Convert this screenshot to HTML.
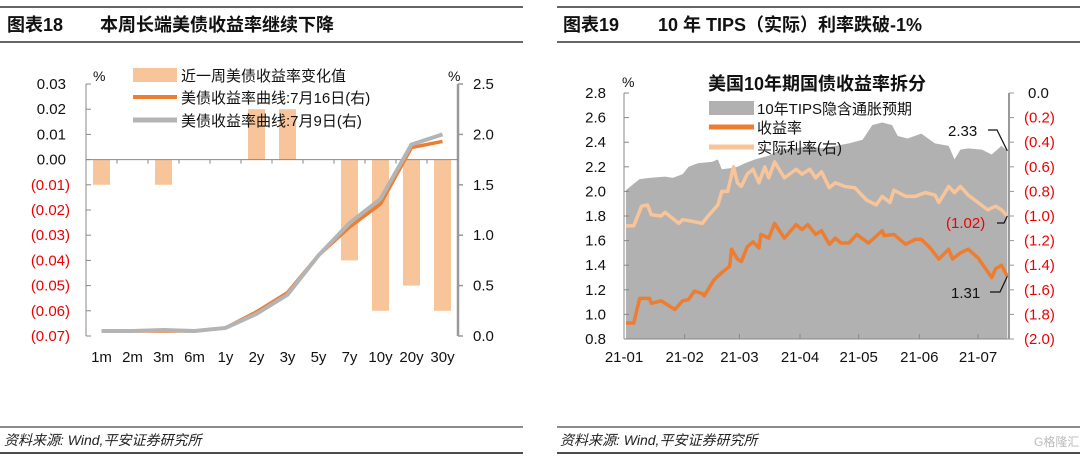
<!DOCTYPE html>
<html><head><meta charset="utf-8">
<style>
html,body{margin:0;padding:0;background:#fff;}
svg{display:block;font-family:"Liberation Sans","Noto Sans CJK SC",sans-serif;}
</style></head>
<body>
<svg id="c" width="1080" height="459" viewBox="0 0 1080 459">
<g>
<line x1="0" y1="7" x2="523" y2="7" stroke="#333" stroke-width="1.5"/>
<line x1="0" y1="42" x2="523" y2="42" stroke="#333" stroke-width="1.5"/>
<text x="7" y="31" font-size="18" font-weight="bold" fill="#111">图表18</text>
<text x="100" y="31" font-size="18" font-weight="bold" fill="#111">本周长端美债收益率继续下降</text>
</g>
<g>
<line x1="557" y1="7" x2="1080" y2="7" stroke="#333" stroke-width="1.5"/>
<line x1="557" y1="42" x2="1080" y2="42" stroke="#333" stroke-width="1.5"/>
<text x="563" y="31" font-size="18" font-weight="bold" fill="#111">图表19</text>
<text x="658" y="31" font-size="18" font-weight="bold" fill="#111">10 年 TIPS（实际）利率跌破-1%</text>
</g>
<g>
<line x1="0" y1="427" x2="523" y2="427" stroke="#666" stroke-width="1.5"/>
<line x1="0" y1="453" x2="523" y2="453" stroke="#111" stroke-width="1.5"/>
<text x="4" y="445" font-size="14" font-style="italic" fill="#222">资料来源: Wind,平安证券研究所</text>
<line x1="557" y1="427" x2="1080" y2="427" stroke="#666" stroke-width="1.5"/>
<line x1="557" y1="453" x2="1080" y2="453" stroke="#111" stroke-width="1.5"/>
<text x="560" y="445" font-size="14" font-style="italic" fill="#222">资料来源: Wind,平安证券研究所</text>
<text x="1034" y="446" font-size="12" fill="#bbb">G格隆汇</text>
</g>
<g id="left"></g>
<g id="right"></g>
</svg>
<script>
// ---------- Left chart data ----------
const tenors = ["1m","2m","3m","6m","1y","2y","3y","5y","7y","10y","20y","30y"];
const weeklyChange = [-0.01,0,-0.01,0,0,0.02,0.02,0,-0.04,-0.06,-0.05,-0.06];
const curveJul16 = [0.05,0.05,0.05,0.05,0.08,0.24,0.43,0.80,1.08,1.31,1.87,1.93];
const curveJul9 = [0.05,0.05,0.06,0.05,0.08,0.22,0.41,0.80,1.12,1.36,1.90,2.00];
const leftTicks = [0.03,0.02,0.01,0,-0.01,-0.02,-0.03,-0.04,-0.05,-0.06,-0.07];
const rightTicksL = [2.5,2.0,1.5,1.0,0.5,0.0];

// ---------- Right chart data (day of year 2021) ----------
const bkDays = [1,8,13,21,25,30,33,38,45,48,50,55,58,62,67,74,80,88,94,101,108,115,122,127,132,137,140,145,152,159,166,169,172,176,183,188,193,196];
const bkVals = [2.01,2.10,2.11,2.12,2.11,2.14,2.20,2.23,2.24,2.26,2.18,2.19,2.20,2.23,2.26,2.29,2.34,2.35,2.37,2.35,2.37,2.39,2.42,2.54,2.56,2.54,2.45,2.43,2.47,2.39,2.37,2.26,2.34,2.35,2.34,2.30,2.37,2.33];
const nomDays = [1,5,8,13,14,19,26,30,33,36,40,41,46,50,54,55,58,60,63,66,69,70,74,77,82,88,91,94,98,101,105,108,111,115,119,125,132,133,138,144,149,152,156,161,166,168,172,176,181,188,190,193,196];
const nomVals = [0.93,0.93,1.13,1.13,1.09,1.11,1.04,1.11,1.12,1.19,1.17,1.15,1.28,1.34,1.39,1.53,1.45,1.43,1.55,1.59,1.54,1.65,1.62,1.74,1.62,1.73,1.69,1.73,1.65,1.68,1.57,1.62,1.58,1.58,1.65,1.58,1.68,1.64,1.65,1.57,1.61,1.61,1.55,1.45,1.53,1.45,1.50,1.53,1.46,1.30,1.37,1.40,1.31];
const realDays = [1,5,9,12,14,19,21,28,30,34,40,43,48,50,53,56,58,60,63,66,69,72,74,77,82,88,91,95,98,101,105,108,113,118,124,129,132,136,138,144,149,154,159,161,166,169,172,176,181,186,190,193,196];
const realVals = [-1.08,-1.08,-0.92,-0.91,-0.99,-1.00,-0.97,-1.06,-1.03,-1.04,-1.06,-1.00,-0.91,-0.80,-0.80,-0.60,-0.73,-0.76,-0.66,-0.62,-0.73,-0.60,-0.69,-0.56,-0.69,-0.62,-0.66,-0.62,-0.69,-0.64,-0.77,-0.73,-0.76,-0.77,-0.87,-0.91,-0.84,-0.89,-0.79,-0.84,-0.84,-0.81,-0.83,-0.89,-0.76,-0.81,-0.76,-0.83,-0.89,-0.95,-0.92,-0.95,-1.00];
const monthLabels = ["21-01","21-02","21-03","21-04","21-05","21-06","21-07"];
const monthDays = [0,31,59,90,120,151,181];
const rLeftTicks = [2.8,2.6,2.4,2.2,2.0,1.8,1.6,1.4,1.2,1.0,0.8];
const rRightTicks = [0,-0.2,-0.4,-0.6,-0.8,-1.0,-1.2,-1.4,-1.6,-1.8,-2.0];

const NS="http://www.w3.org/2000/svg";
function mk(parent,tag,attrs,name,text){
  const e=document.createElementNS(NS,tag);
  for(const k in attrs) e.setAttribute(k,attrs[k]);
  
  
  if(text!==undefined) e.textContent=text;
  parent.appendChild(e);return e;
}
function fmt(v,d){ if(v<0) return "("+Math.abs(v).toFixed(d)+")"; return v.toFixed(d);}

// ---------- Left chart ----------
(function(){
  const g=document.getElementById('left');
  const X0=86,X1=458,Ytop=84,Ybot=336;
  const yL=v=>Ytop+(0.03-v)/0.10*(Ybot-Ytop);
  const yR=v=>Ybot-v/2.5*(Ybot-Ytop);
  const bw=(X1-X0)/tenors.length;
  const xc=i=>X0+bw*(i+0.5);
  weeklyChange.forEach((v,i)=>{
    const y0=yL(0), y1=yL(v);
    const top=Math.min(y0,y1), h=Math.max(Math.abs(y1-y0),0);
    if(h>0) mk(g,'rect',{x:xc(i)-8.5,y:top,width:17,height:h,fill:'#f8c49a'},'bar-'+tenors[i]);
  });
  mk(g,'line',{x1:X0,y1:Ytop,x2:X0,y2:Ybot,stroke:'#888','stroke-width':1},'left-y-axis');
  mk(g,'line',{x1:X1,y1:Ytop,x2:X1,y2:Ybot,stroke:'#999','stroke-width':2.5},'right-y-axis');
  mk(g,'line',{x1:X0,y1:yL(0),x2:X1,y2:yL(0),stroke:'#888','stroke-width':1},'zero-axis');
  for(let i=1;i<tenors.length;i++) mk(g,'line',{x1:X0+bw*i,y1:yL(0),x2:X0+bw*i,y2:yL(0)+4,stroke:'#888'},'x-tick');
  leftTicks.forEach(v=>{
    mk(g,'line',{x1:X0,y1:yL(v),x2:X0+5,y2:yL(v),stroke:'#888'},'left-tick');
    mk(g,'text',{x:v<0?70:66,y:yL(v)+5,'font-size':15,'text-anchor':'end',fill:v<0?'#e00':'#111'},'left-tick-label',fmt(v,2));
  });
  rightTicksL.forEach(v=>{
    mk(g,'line',{x1:X1,y1:yR(v),x2:X1+5,y2:yR(v),stroke:'#999','stroke-width':1.5},'right-tick');
    mk(g,'text',{x:473,y:yR(v)+5,'font-size':15,fill:'#111'},'right-tick-label',v.toFixed(1));
  });
  mk(g,'text',{x:93,y:81,'font-size':14,fill:'#111'},'left-unit','%');
  mk(g,'text',{x:448,y:81,'font-size':14,fill:'#111'},'right-unit','%');
  tenors.forEach((t,i)=>mk(g,'text',{x:xc(i),y:362,'font-size':15,'text-anchor':'middle',fill:'#111'},'x-label-'+t,t));
  const pts=a=>a.map((v,i)=>xc(i)+','+yR(v)).join(' ');
  mk(g,'polyline',{points:pts(curveJul16),fill:'none',stroke:'#ed7d31','stroke-width':3.5,'stroke-linejoin':'round'},'line-jul16');
  mk(g,'polyline',{points:pts(curveJul9),fill:'none',stroke:'#b4b4b4','stroke-width':4,'stroke-linejoin':'round'},'line-jul9');
  mk(g,'rect',{x:133,y:68,width:44,height:14,fill:'#f8c49a'},'legend-bar-swatch');
  mk(g,'text',{x:181,y:81,'font-size':15,fill:'#111'},'legend-bar-label','近一周美债收益率变化值');
  mk(g,'line',{x1:133,y1:97,x2:177,y2:97,stroke:'#ed7d31','stroke-width':4},'legend-jul16-swatch');
  mk(g,'text',{x:181,y:103,'font-size':15,fill:'#111'},'legend-jul16-label','美债收益率曲线:7月16日(右)');
  mk(g,'line',{x1:133,y1:120,x2:177,y2:120,stroke:'#b4b4b4','stroke-width':5},'legend-jul9-swatch');
  mk(g,'text',{x:181,y:126,'font-size':15,fill:'#111'},'legend-jul9-label','美债收益率曲线:7月9日(右)');
})();

// ---------- Right chart ----------
(function(){
  const g=document.getElementById('right');
  const X0=624,X1=1009,Ytop=93,Ybot=339;
  const xd=d=>X0+d*(978-624)/181;
  const yL=v=>Ytop+(2.8-v)/2.0*(Ybot-Ytop);
  const yR=v=>Ytop+(0-v)/2.0*(Ybot-Ytop);
  let p='M'+xd(bkDays[0])+','+Ybot;
  bkDays.forEach((d,i)=>p+=' L'+xd(d)+','+yL(bkVals[i]));
  p+=' L'+xd(bkDays[bkDays.length-1])+','+Ybot+' Z';
  mk(g,'path',{d:p,fill:'#b1b1b1'},'breakeven-area');
  mk(g,'polyline',{points:realDays.map((d,i)=>xd(d)+','+yR(realVals[i])).join(' '),fill:'none',stroke:'#f8c49a','stroke-width':3.5,'stroke-linejoin':'round'},'real-rate-line');
  mk(g,'polyline',{points:nomDays.map((d,i)=>xd(d)+','+yL(nomVals[i])).join(' '),fill:'none',stroke:'#ed7d31','stroke-width':3.5,'stroke-linejoin':'round'},'nominal-yield-line');
  mk(g,'line',{x1:X0,y1:Ytop,x2:X0,y2:Ybot,stroke:'#888'},'left-y-axis');
  mk(g,'line',{x1:X0,y1:Ybot,x2:X1,y2:Ybot,stroke:'#888'},'x-axis');
  mk(g,'line',{x1:X1,y1:Ytop,x2:X1,y2:Ybot,stroke:'#999','stroke-width':2},'right-y-axis');
  rLeftTicks.forEach(v=>{
    mk(g,'line',{x1:X0,y1:yL(v),x2:X0+5,y2:yL(v),stroke:'#888'},'left-tick');
    mk(g,'text',{x:606,y:yL(v)+5,'font-size':15,'text-anchor':'end',fill:'#111'},'left-tick-label',v.toFixed(1));
  });
  rRightTicks.forEach(v=>{
    mk(g,'line',{x1:X1,y1:yR(v),x2:X1+5,y2:yR(v),stroke:'#999'},'right-tick');
    mk(g,'text',{x:v<0?1024:1028,y:yR(v)+5,'font-size':15,fill:v<0?'#e00':'#111'},'right-tick-label',v===0?'0.0':fmt(v,1));
  });
  monthDays.forEach((d,i)=>{
    mk(g,'line',{x1:xd(d),y1:Ybot,x2:xd(d),y2:Ybot-5,stroke:'#888'},'x-tick');
    mk(g,'text',{x:xd(d),y:362,'font-size':15,'text-anchor':'middle',fill:'#111'},'x-label-'+monthLabels[i],monthLabels[i]);
  });
  mk(g,'text',{x:622,y:87,'font-size':14,fill:'#111'},'left-unit','%');
  mk(g,'text',{x:708,y:90,'font-size':18,'font-weight':'bold',fill:'#111'},'inner-title','美国10年期国债收益率拆分');
  mk(g,'rect',{x:709,y:101,width:45,height:14,fill:'#b1b1b1'},'legend-breakeven-swatch');
  mk(g,'text',{x:757,y:114,'font-size':15,fill:'#111'},'legend-breakeven-label','10年TIPS隐含通胀预期');
  mk(g,'line',{x1:709,y1:127,x2:754,y2:127,stroke:'#ed7d31','stroke-width':5},'legend-nominal-swatch');
  mk(g,'text',{x:757,y:133,'font-size':15,fill:'#111'},'legend-nominal-label','收益率');
  mk(g,'line',{x1:709,y1:147,x2:754,y2:147,stroke:'#f8c49a','stroke-width':5},'legend-real-swatch');
  mk(g,'text',{x:757,y:153,'font-size':15,fill:'#111'},'legend-real-label','实际利率(右)');
  const lx=xd(bkDays[bkDays.length-1]);
  mk(g,'text',{x:948,y:136,'font-size':15,fill:'#111'},'label-breakeven-last',bkVals[bkVals.length-1].toFixed(2));
  mk(g,'polyline',{points:'988,130 997,130 '+lx+','+yL(bkVals[bkVals.length-1]),fill:'none',stroke:'#111','stroke-width':1.2},'leader-breakeven');
  mk(g,'text',{x:946,y:228,'font-size':15,fill:'#e00'},'label-real-last','(1.02)');
  mk(g,'polyline',{points:'997,223 1004,223 '+lx+','+yR(realVals[realVals.length-1]),fill:'none',stroke:'#111','stroke-width':1.2},'leader-real');
  mk(g,'text',{x:951,y:298,'font-size':15,fill:'#111'},'label-nominal-last',nomVals[nomVals.length-1].toFixed(2));
  mk(g,'polyline',{points:'990,292 1000,292 '+lx+','+yL(nomVals[nomVals.length-1]),fill:'none',stroke:'#111','stroke-width':1.2},'leader-nominal');
})();
</script>
</body></html>
